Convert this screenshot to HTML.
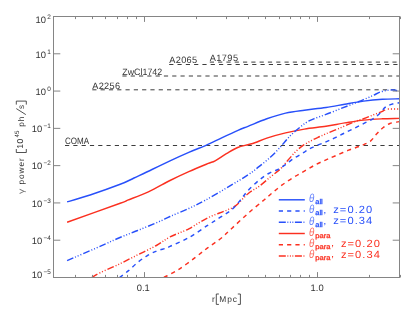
<!DOCTYPE html>
<html><head><meta charset="utf-8"><title>gamma power</title>
<style>html,body{margin:0;padding:0;background:#fff;width:415px;height:312px;overflow:hidden;font-family:"Liberation Sans",sans-serif}</style></head>
<body>
<svg width="415" height="312" viewBox="0 0 415 312" style="display:block;position:absolute;left:0;top:0;will-change:transform" font-family="Liberation Sans, sans-serif" text-rendering="geometricPrecision">
<g>
<defs><clipPath id="c"><rect x="53.5" y="16.5" width="346.0" height="261.0"/></clipPath></defs>
<line x1="65.0" y1="145.5" x2="399.5" y2="145.5" stroke="#3c3c3c" stroke-width="1" stroke-dasharray="4.2 4.1"/>
<text x="65.0" y="144" font-size="9.2" fill="#333" textLength="24.1" lengthAdjust="spacingAndGlyphs">COMA</text>
<line x1="92.3" y1="89.8" x2="399.5" y2="89.8" stroke="#3c3c3c" stroke-width="1" stroke-dasharray="4.2 4.1"/>
<text x="92.3" y="89" font-size="9.2" fill="#333" textLength="27.7" lengthAdjust="spacing">A2256</text>
<line x1="122.4" y1="76.0" x2="399.5" y2="76.0" stroke="#3c3c3c" stroke-width="1" stroke-dasharray="4.2 4.1"/>
<text x="122.3" y="75" font-size="9.2" fill="#333" textLength="39.9" lengthAdjust="spacingAndGlyphs">ZwCl1742</text>
<line x1="169.2" y1="64.5" x2="399.5" y2="64.5" stroke="#3c3c3c" stroke-width="1" stroke-dasharray="4.2 4.1"/>
<text x="169.2" y="63" font-size="9.2" fill="#333" textLength="28.0" lengthAdjust="spacing">A2065</text>
<line x1="209.8" y1="62.1" x2="399.5" y2="62.1" stroke="#3c3c3c" stroke-width="1" stroke-dasharray="4.2 4.1"/>
<text x="209.8" y="61" font-size="9.2" fill="#333" textLength="28.2" lengthAdjust="spacing">A1795</text>
<g clip-path="url(#c)" fill="none" stroke-linejoin="round">
<path d="M163.9,277.5C166.2,276.2 172.9,273.1 178.0,269.9C183.1,266.7 189.5,261.8 194.4,258.1C199.3,254.4 203.2,251.2 207.6,247.9C212.0,244.6 216.7,241.8 220.8,238.5C224.9,235.2 227.5,232.4 232.0,228.2C236.5,224.0 242.7,218.2 248.0,213.5C253.3,208.8 259.9,203.4 264.0,200.0C268.1,196.6 269.4,195.3 272.4,192.8C275.4,190.3 278.4,187.7 281.8,185.2C285.2,182.7 289.3,180.0 293.1,177.7C296.9,175.3 300.6,173.3 304.4,171.1C308.2,168.9 312.1,166.5 315.7,164.6C319.3,162.7 322.8,161.3 326.0,159.9C329.2,158.5 331.2,157.6 335.0,156.0C338.8,154.4 344.2,151.9 348.6,150.2C353.0,148.5 357.5,147.2 361.1,145.7C364.7,144.2 367.6,143.3 370.2,141.3C372.8,139.3 374.8,136.0 376.8,133.8C378.8,131.6 380.2,129.9 382.4,128.2C384.6,126.5 387.0,124.6 389.9,123.5C392.8,122.4 397.9,121.9 399.5,121.6" stroke="#fb3020" stroke-width="1.45" stroke-dasharray="4.2 4.1"/>
<path d="M91.9,277.5C93.2,276.7 95.5,275.0 100.0,272.8C104.5,270.6 112.5,267.3 118.8,264.3C125.1,261.3 131.3,258.0 137.6,254.9C143.9,251.8 151.0,248.5 156.4,245.5C161.8,242.5 164.6,239.7 170.0,236.9C175.4,234.1 182.5,232.0 188.8,228.8C195.1,225.6 201.3,221.0 207.6,217.9C213.9,214.8 221.7,212.4 226.4,210.3C231.1,208.2 232.2,208.4 235.8,205.6C239.4,202.8 244.1,196.9 248.0,193.7C251.9,190.5 255.5,189.0 259.3,186.2C263.1,183.4 267.2,179.6 270.6,176.8C274.1,174.0 277.2,172.0 280.0,169.3C282.8,166.6 285.0,163.6 287.5,160.8C290.0,158.0 292.5,154.8 295.0,152.3C297.5,149.8 300.0,147.6 302.5,145.8C305.0,144.0 307.5,142.7 310.0,141.3C312.5,139.9 314.8,138.8 317.5,137.6C320.2,136.3 322.1,135.5 326.0,133.8C329.9,132.1 336.3,129.6 341.0,127.6C345.7,125.6 350.4,123.3 354.2,121.8C358.0,120.3 360.5,119.9 363.6,118.8C366.7,117.7 370.2,116.1 373.0,115.0C375.8,113.9 378.6,113.0 380.5,112.2C382.4,111.4 383.3,110.7 384.3,110.2C385.3,109.7 386.2,109.2 386.6,109.0" stroke="#fb3020" stroke-width="1.45" stroke-dasharray="6.8 2.0 1.0 1.9 1.0 1.9 1.0 2.0"/>
<path d="M67.1,222.2C75.9,219.0 110.1,207.0 120.2,203.3C130.3,199.6 123.0,202.1 127.7,200.2C132.4,198.3 141.3,195.1 148.4,191.8C155.5,188.5 163.3,183.9 170.0,180.5C176.7,177.1 182.5,174.4 188.8,171.6C195.1,168.8 203.2,165.5 207.6,163.7C212.0,161.9 212.0,162.5 215.1,160.8C218.2,159.1 222.6,155.9 226.4,153.7C230.2,151.5 234.1,149.0 237.7,147.5C241.3,146.0 245.0,145.5 248.0,144.7C251.0,143.9 252.4,143.6 255.5,142.5C258.6,141.4 261.8,139.7 266.8,138.1C271.8,136.5 279.3,134.4 285.6,132.9C291.9,131.4 297.7,130.2 304.4,129.1C311.1,128.0 319.3,127.3 326.0,126.3C332.7,125.3 338.5,123.9 344.8,122.9C351.1,121.9 357.3,120.8 363.6,120.1C369.9,119.4 376.4,119.1 382.4,118.8C388.4,118.5 396.6,118.5 399.5,118.4" stroke="#fb3020" stroke-width="1.45"/>
<path d="M119.5,277.5C121.0,276.4 125.2,273.4 128.2,270.9C131.2,268.4 134.5,264.9 137.6,262.4C140.7,259.9 143.9,257.7 147.0,255.8C150.1,253.9 153.3,252.3 156.4,251.1C159.5,249.8 163.5,249.1 165.8,248.3C168.1,247.5 166.2,248.2 170.0,246.4C173.8,244.6 182.5,241.1 188.8,237.6C195.1,234.1 202.3,228.8 207.6,225.4C212.9,222.0 216.7,219.6 220.8,216.9C224.9,214.2 228.7,212.2 232.0,209.4C235.3,206.6 237.8,203.2 240.5,200.0C243.2,196.8 244.9,193.8 248.0,190.5C251.1,187.2 255.9,182.8 259.3,180.0C262.8,177.2 265.6,175.3 268.7,173.5C271.8,171.7 275.3,170.8 278.1,169.3C280.9,167.8 283.1,166.3 285.6,164.6C288.1,162.9 290.3,160.8 293.1,158.9C295.9,157.0 299.4,155.2 302.5,153.3C305.6,151.4 308.0,149.5 311.9,147.6C315.8,145.7 322.1,143.5 326.0,141.8C329.9,140.1 332.3,139.1 335.4,137.6C338.5,136.1 341.7,134.4 344.8,132.9C347.9,131.4 351.1,129.9 354.2,128.3C357.3,126.8 360.5,125.2 363.6,123.6C366.7,122.0 370.2,120.6 373.0,118.8C375.8,117.0 378.6,114.6 380.5,112.8C382.4,111.0 383.1,109.3 384.3,108.1C385.6,106.9 386.4,106.3 388.0,105.6C389.6,104.9 391.8,104.2 393.7,103.7C395.6,103.2 398.5,103.0 399.5,102.8" stroke="#2850fa" stroke-width="1.45" stroke-dasharray="4.2 4.1"/>
<path d="M67.1,260.6C72.6,258.2 91.4,250.2 100.0,246.4C108.6,242.6 112.5,240.7 118.8,238.0C125.1,235.3 131.0,233.2 137.6,230.5C144.2,227.8 152.9,224.3 158.3,222.0C163.7,219.7 164.9,218.8 170.0,216.5C175.1,214.2 183.0,211.2 188.8,208.5C194.6,205.8 198.5,203.9 204.8,200.5C211.1,197.1 219.2,192.4 226.4,188.1C233.6,183.8 242.5,178.5 248.0,174.9C253.5,171.3 255.5,169.4 259.3,166.4C263.1,163.4 267.5,159.8 270.6,157.0C273.7,154.2 275.8,152.0 278.1,149.5C280.5,147.0 282.5,144.4 284.7,142.0C286.9,139.6 288.8,137.1 291.2,134.8C293.6,132.5 296.3,130.2 298.8,128.2C301.3,126.1 303.8,124.1 306.3,122.5C308.8,120.9 310.5,120.1 313.8,118.8C317.1,117.5 321.5,116.1 326.0,114.4C330.5,112.7 336.3,110.3 341.0,108.5C345.7,106.7 350.4,104.9 354.2,103.4C358.0,101.9 360.5,100.9 363.6,99.6C366.7,98.3 370.2,96.8 373.0,95.5C375.8,94.2 378.0,92.8 380.5,91.9C383.0,91.0 385.8,90.5 388.0,90.2C390.2,89.9 391.8,89.8 393.7,90.0C395.6,90.2 398.5,91.2 399.5,91.5" stroke="#2850fa" stroke-width="1.45" stroke-dasharray="6.8 2.0 1.0 1.9 1.0 1.9 1.0 2.0"/>
<path d="M67.1,201.9C70.9,200.8 81.2,197.9 90.1,195.0C98.9,192.1 112.9,187.1 120.2,184.3C127.5,181.5 128.7,180.5 134.0,178.0C139.3,175.5 146.0,172.4 152.0,169.5C158.0,166.6 163.9,163.7 170.0,160.8C176.1,157.9 182.8,154.9 188.8,152.3C194.8,149.7 200.5,147.7 206.0,145.3C211.5,142.9 216.4,140.3 221.7,137.8C227.0,135.3 233.6,132.2 238.0,130.3C242.4,128.4 243.2,128.2 248.0,126.3C252.8,124.4 260.5,121.0 266.8,118.8C273.1,116.6 279.3,114.5 285.6,113.1C291.9,111.7 297.7,111.1 304.4,110.2C311.1,109.3 319.3,108.5 326.0,107.5C332.7,106.5 338.5,105.3 344.8,104.2C351.1,103.1 357.3,101.9 363.6,101.1C369.9,100.3 376.4,99.7 382.4,99.3C388.4,98.9 396.6,98.9 399.5,98.8" stroke="#2850fa" stroke-width="1.45"/>
<polyline points="386.6,109 399.5,109" stroke="#fb3020" stroke-width="1.45" stroke-dasharray="1.1 2.0" stroke-dashoffset="-1.2"/>
</g>
<rect x="53.5" y="16.5" width="346.0" height="261.0" fill="none" stroke="#858585" stroke-width="1"/>
<path d="M53.5,277.50h6.8 M399.5,277.50h-6.8 M53.5,240.21h6.8 M399.5,240.21h-6.8 M53.5,202.93h6.8 M399.5,202.93h-6.8 M53.5,165.64h6.8 M399.5,165.64h-6.8 M53.5,128.36h6.8 M399.5,128.36h-6.8 M53.5,91.07h6.8 M399.5,91.07h-6.8 M53.5,53.79h6.8 M399.5,53.79h-6.8 M53.5,16.50h6.8 M399.5,16.50h-6.8 M75.50,277.5v-2.6 M75.50,16.5v2.6 M92.50,277.5v-2.6 M92.50,16.5v2.6 M105.50,277.5v-2.6 M105.50,16.5v2.6 M117.50,277.5v-2.6 M117.50,16.5v2.6 M127.50,277.5v-2.6 M127.50,16.5v2.6 M136.50,277.5v-2.6 M136.50,16.5v2.6 M144.50,277.5v-5.4 M144.50,16.5v5.4 M196.50,277.5v-2.6 M196.50,16.5v2.6 M226.50,277.5v-2.6 M226.50,16.5v2.6 M248.50,277.5v-2.6 M248.50,16.5v2.6 M265.50,277.5v-2.6 M265.50,16.5v2.6 M279.50,277.5v-2.6 M279.50,16.5v2.6 M290.50,277.5v-2.6 M290.50,16.5v2.6 M300.50,277.5v-2.6 M300.50,16.5v2.6 M309.50,277.5v-2.6 M309.50,16.5v2.6 M317.50,277.5v-5.4 M317.50,16.5v5.4 M369.50,277.5v-2.6 M369.50,16.5v2.6 M400.50,277.5v-2.6 M400.50,16.5v2.6" stroke="#858585" stroke-width="1" fill="none"/>
<text x="42.3" y="278" font-size="9.4" fill="#333" text-anchor="end">10</text>
<text x="43.5" y="274" font-size="6.4" fill="#333" textLength="7.3" lengthAdjust="spacingAndGlyphs">−5</text>
<text x="42.3" y="244" font-size="9.4" fill="#333" text-anchor="end">10</text>
<text x="43.5" y="240" font-size="6.4" fill="#333" textLength="7.3" lengthAdjust="spacingAndGlyphs">−4</text>
<text x="42.3" y="207" font-size="9.4" fill="#333" text-anchor="end">10</text>
<text x="43.5" y="203" font-size="6.4" fill="#333" textLength="7.3" lengthAdjust="spacingAndGlyphs">−3</text>
<text x="42.3" y="169" font-size="9.4" fill="#333" text-anchor="end">10</text>
<text x="43.5" y="165" font-size="6.4" fill="#333" textLength="7.3" lengthAdjust="spacingAndGlyphs">−2</text>
<text x="42.3" y="132" font-size="9.4" fill="#333" text-anchor="end">10</text>
<text x="43.5" y="128" font-size="6.4" fill="#333" textLength="7.3" lengthAdjust="spacingAndGlyphs">−1</text>
<text x="46.0" y="95" font-size="9.4" fill="#333" text-anchor="end">10</text>
<text x="47.2" y="91" font-size="6.4" fill="#333" textLength="3.6" lengthAdjust="spacingAndGlyphs">0</text>
<text x="46.0" y="58" font-size="9.4" fill="#333" text-anchor="end">10</text>
<text x="47.2" y="54" font-size="6.4" fill="#333" textLength="3.6" lengthAdjust="spacingAndGlyphs">1</text>
<text x="46.0" y="23" font-size="9.4" fill="#333" text-anchor="end">10</text>
<text x="47.2" y="19" font-size="6.4" fill="#333" textLength="3.6" lengthAdjust="spacingAndGlyphs">2</text>
<text x="136.8" y="291" font-size="9.4" fill="#333">0.1</text>
<text x="310.6" y="291" font-size="9.4" fill="#333">1.0</text>
<text x="211.9" y="302" font-size="8.4" fill="#333">r</text>
<text x="219.2" y="302" font-size="8.4" fill="#333" textLength="17.8" lengthAdjust="spacing">Mpc</text>
<path d="M218.9,294H216.3V304.4H218.9 M237.8,294H240.4V304.4H237.8" fill="none" stroke="#333" stroke-width="0.85"/>
<g transform="translate(23.8,194.2) rotate(-90)" fill="#333" font-size="8.3"><text x="0.3" y="0" textLength="5.2" lengthAdjust="spacingAndGlyphs" opacity="0.7">γ</text><text x="9.6" y="0" textLength="26.3" lengthAdjust="spacing">power</text><path d="M45.2,-7.5H41.7V2.5H45.2 M89.6,-7.5H93.1V2.5H89.6 M79.6,2L85.6,-7.5" fill="none" stroke="#333" stroke-width="0.85"/><text x="45.5" y="-0.4" font-size="8.6" textLength="10.0" lengthAdjust="spacing">10</text><text x="56.8" y="-4.4" font-size="6.2" textLength="6.8" lengthAdjust="spacingAndGlyphs">45</text><text x="67.5" y="0" textLength="10.2" lengthAdjust="spacing">ph</text><text x="85.3" y="0">s</text></g>
<line x1="278.8" y1="199.8" x2="304.8" y2="199.8" stroke="#2850fa" stroke-width="1.45"/>
<text x="309.0" y="201.9" font-size="11.6" font-style="italic" fill="#2850fa" textLength="5.3" lengthAdjust="spacingAndGlyphs" opacity="0.72">θ</text>
<text x="315.3" y="204.0" font-size="6.9" fill="#2850fa" stroke="#2850fa" stroke-width="0.3" textLength="7.5" lengthAdjust="spacingAndGlyphs">all</text>
<line x1="278.8" y1="211.0" x2="304.8" y2="211.0" stroke="#2850fa" stroke-width="1.45" stroke-dasharray="4.2 4.1"/>
<text x="309.0" y="213.2" font-size="11.6" font-style="italic" fill="#2850fa" textLength="5.3" lengthAdjust="spacingAndGlyphs" opacity="0.72">θ</text>
<text x="315.3" y="215.3" font-size="6.9" fill="#2850fa" stroke="#2850fa" stroke-width="0.3" textLength="7.5" lengthAdjust="spacingAndGlyphs">all</text>
<text x="323.8" y="212.5" font-size="7.5" font-weight="bold" fill="#2850fa">,</text>
<text transform="translate(333.2,213) scale(1.07,1)" font-size="10.4" fill="#2850fa" textLength="36.5" lengthAdjust="spacing">z=0.20</text>
<line x1="278.8" y1="222.3" x2="304.8" y2="222.3" stroke="#2850fa" stroke-width="1.45" stroke-dasharray="7 1.6 0.9 1.6 0.9 1.6 0.9 1.6"/>
<text x="309.0" y="224.5" font-size="11.6" font-style="italic" fill="#2850fa" textLength="5.3" lengthAdjust="spacingAndGlyphs" opacity="0.72">θ</text>
<text x="315.3" y="226.6" font-size="6.9" fill="#2850fa" stroke="#2850fa" stroke-width="0.3" textLength="7.5" lengthAdjust="spacingAndGlyphs">all</text>
<text x="323.8" y="223.8" font-size="7.5" font-weight="bold" fill="#2850fa">,</text>
<text transform="translate(333.2,224) scale(1.07,1)" font-size="10.4" fill="#2850fa" textLength="36.5" lengthAdjust="spacing">z=0.34</text>
<line x1="278.8" y1="233.5" x2="304.8" y2="233.5" stroke="#fb3020" stroke-width="1.45"/>
<text x="309.0" y="235.6" font-size="11.6" font-style="italic" fill="#fb3020" textLength="5.3" lengthAdjust="spacingAndGlyphs" opacity="0.72">θ</text>
<text x="315.3" y="237.7" font-size="6.9" fill="#fb3020" stroke="#fb3020" stroke-width="0.3" textLength="15.2" lengthAdjust="spacingAndGlyphs">para</text>
<line x1="278.8" y1="244.8" x2="304.8" y2="244.8" stroke="#fb3020" stroke-width="1.45" stroke-dasharray="4.2 4.1"/>
<text x="309.0" y="246.8" font-size="11.6" font-style="italic" fill="#fb3020" textLength="5.3" lengthAdjust="spacingAndGlyphs" opacity="0.72">θ</text>
<text x="315.3" y="248.9" font-size="6.9" fill="#fb3020" stroke="#fb3020" stroke-width="0.3" textLength="15.2" lengthAdjust="spacingAndGlyphs">para</text>
<text x="331.5" y="246.1" font-size="7.5" font-weight="bold" fill="#fb3020">,</text>
<text transform="translate(340.9,247) scale(1.07,1)" font-size="10.4" fill="#fb3020" textLength="36.5" lengthAdjust="spacing">z=0.20</text>
<line x1="278.8" y1="256.0" x2="304.8" y2="256.0" stroke="#fb3020" stroke-width="1.45" stroke-dasharray="7 1.6 0.9 1.6 0.9 1.6 0.9 1.6"/>
<text x="309.0" y="258.1" font-size="11.6" font-style="italic" fill="#fb3020" textLength="5.3" lengthAdjust="spacingAndGlyphs" opacity="0.72">θ</text>
<text x="315.3" y="260.2" font-size="6.9" fill="#fb3020" stroke="#fb3020" stroke-width="0.3" textLength="15.2" lengthAdjust="spacingAndGlyphs">para</text>
<text x="331.5" y="257.4" font-size="7.5" font-weight="bold" fill="#fb3020">,</text>
<text transform="translate(340.9,258) scale(1.07,1)" font-size="10.4" fill="#fb3020" textLength="36.5" lengthAdjust="spacing">z=0.34</text>
</g>
</svg>
</body></html>
